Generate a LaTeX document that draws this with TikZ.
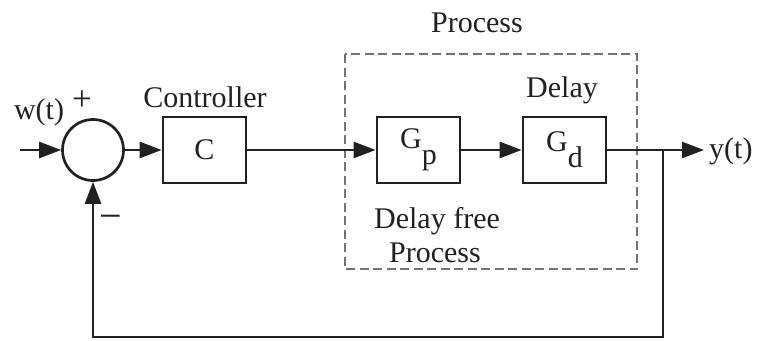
\documentclass[tikz,border=0pt]{standalone}
\usepackage{fontspec}
\setmainfont{Liberation Serif}
\usetikzlibrary{arrows.meta}
\definecolor{ink}{gray}{0.13}
\tikzset{
  blk/.style={draw=ink, line width=2.7pt, minimum width=83pt, minimum height=66pt, inner sep=0pt},
  sumnode/.style={draw=ink, circle, line width=2.7pt, minimum size=61pt, inner sep=0pt},
  wire/.style={draw=ink, line width=2.7pt},
  arr/.style={wire, -{Triangle[length=22pt,width=16pt]}},
  lbl/.style={font=\fontsize{30}{36}\selectfont, text=ink, inner sep=0pt},
  txt/.style={lbl, anchor=base},
  signlbl/.style={font=\fontsize{35}{40}\selectfont, text=ink, inner sep=0pt, anchor=base},
  procbox/.style={draw=black!55, line width=1.4pt, dash pattern=on 9pt off 4.5pt}
}
% lowered index letter inside a block
\newcommand{\lowsub}[1]{\raisebox{-16pt}{#1}}
\begin{document}
\begin{tikzpicture}[x=1pt, y=-1pt]
  \useasboundingbox (0,0) rectangle (759,340);

  % process boundary
  \draw[procbox] (345,54) rectangle (637,269);

  % blocks
  \node[sumnode] (sum) at (93,150) {};
  \node[blk, lbl] (C)  at (204.5,150) {C};
  \node[blk, lbl] (Gp) at (418.5,150) {G\lowsub{p}};
  \node[blk, lbl] (Gd) at (564.5,150) {G\lowsub{d}};

  \coordinate (in)  at (20,150);
  \coordinate (out) at (704,150);
  \coordinate (br)  at (663,150);
  \coordinate (fbr) at (663,337);
  \coordinate (fbl) at (93,337);

  % signal path
  \draw[arr] (in) -- (sum.west);
  \draw[arr] (sum.east) -- (C.west);
  \draw[arr] (C.east) -- (Gp.west);
  \draw[arr] (Gp.east) -- (Gd.west);
  \draw[arr] (Gd.east) -- (out);

  % feedback loop
  \draw[arr] (br) -- (fbr) -- (fbl) -- (sum.south);

  % labels
  \node[txt] (w)     at (39,119)  {w(t)};
  \node[signlbl] (plus)  at (82,110)  {+};
  \node[signlbl, font=\fontsize{40}{44}\selectfont] (minus) at (111,229) {−};
  \node[txt] (ctl)   at (205,107) {Controller};
  \node[txt] (dly)   at (562,97)  {Delay};
  \node[txt] (proc)  at (477,32)  {Process};
  \node[txt] (dfree) at (437,228) {Delay free};
  \node[txt] (dproc) at (435,262) {Process};
  \node[txt, anchor=base west] (y) at (709,158) {y(t)};
\end{tikzpicture}
\end{document}
